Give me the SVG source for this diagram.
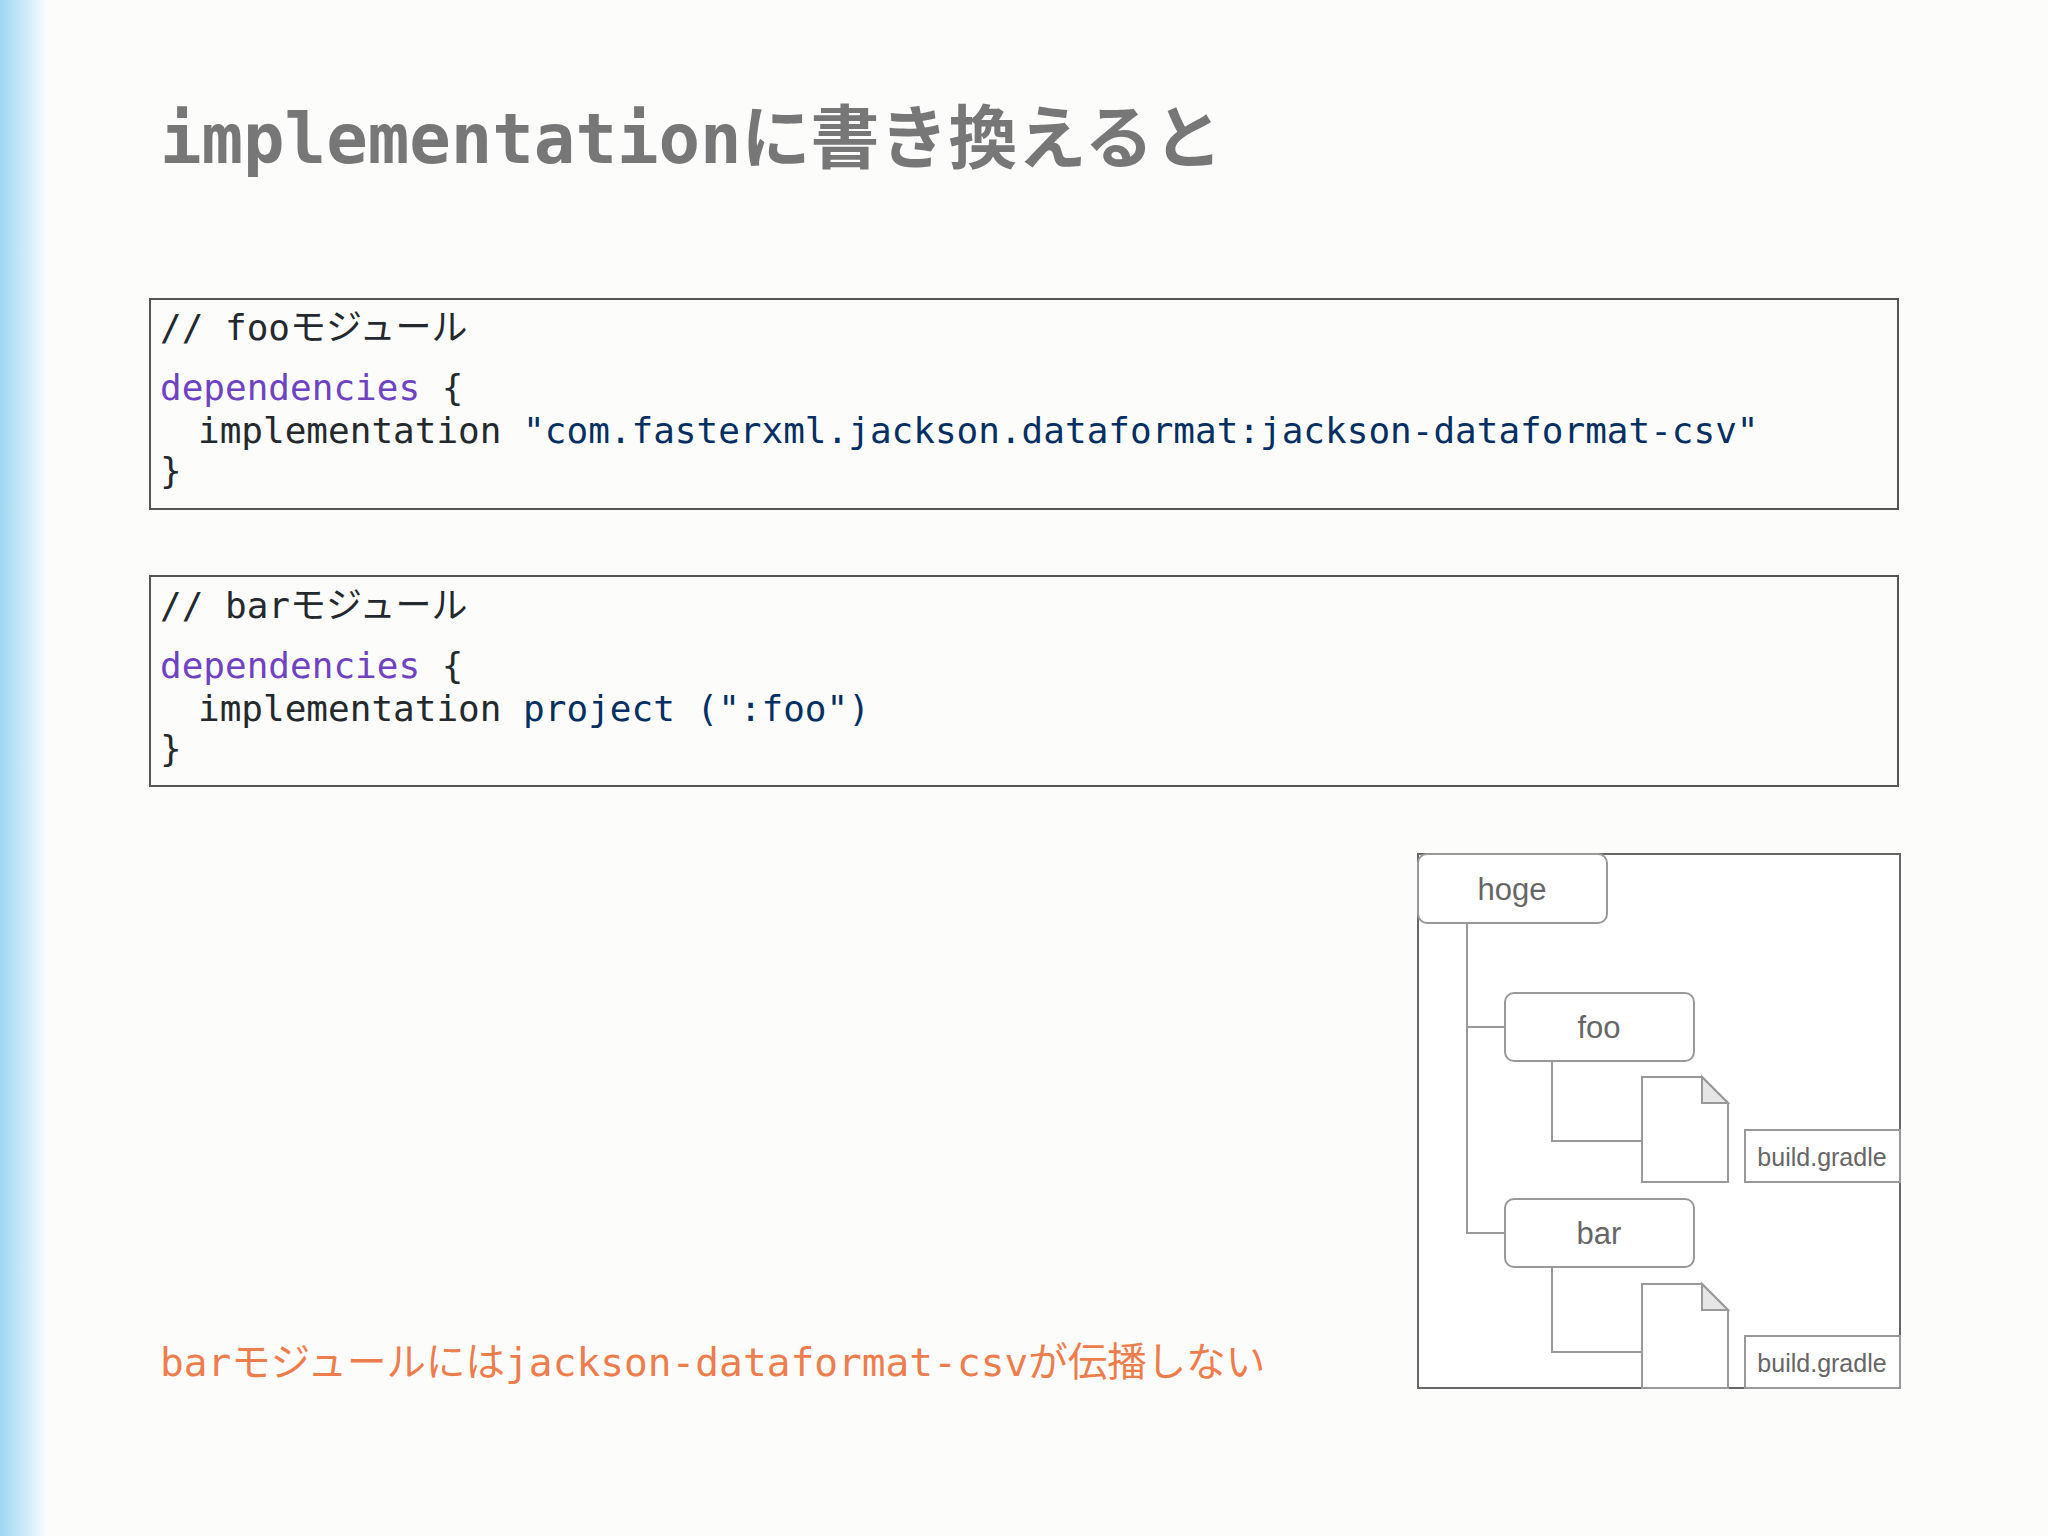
<svg xmlns="http://www.w3.org/2000/svg" width="2048" height="1536" viewBox="0 0 2048 1536">
<defs>
<linearGradient id="side" x1="0" y1="0" x2="1" y2="0">
<stop offset="0" stop-color="#9fd6f2"/><stop offset="0.6" stop-color="#d4eefa"/><stop offset="1" stop-color="#fcfefd"/>
</linearGradient>
<style>
.code{font-family:"DejaVu Sans Mono","Noto Sans CJK JP",monospace;font-size:36px;fill:#24292e}
.kw{fill:#6f42c1}.str{fill:#032f62}
.box{fill:none;stroke:#555;stroke-width:2}
.t{fill:#fff;stroke:#999;stroke-width:2}
.ln{fill:none;stroke:#999;stroke-width:2}
.lbl{font-family:"Liberation Sans",Arial,sans-serif;fill:#666;text-anchor:middle}
</style>
</defs>
<rect width="2048" height="1536" fill="#fcfdfb"/>
<rect width="48" height="1536" fill="url(#side)"/>
<text x="160" y="163" font-family="DejaVu Sans Mono,'Noto Sans CJK JP',monospace" font-weight="bold" font-size="69" fill="#777">implementationに書き換えると</text>
<g id="code1">
<rect class="box" x="150" y="299" width="1748" height="210"/>
<text class="code" x="160" y="340">// fooモジュール</text>
<text class="code" x="160" y="400"><tspan class="kw">dependencies</tspan> {</text>
<text class="code" x="198" y="443">implementation <tspan class="str">"com.fasterxml.jackson.dataformat:jackson-dataformat-csv"</tspan></text>
<text class="code" x="160" y="483">}</text>
</g>
<g id="code2">
<rect class="box" x="150" y="576" width="1748" height="210"/>
<text class="code" x="160" y="618">// barモジュール</text>
<text class="code" x="160" y="678"><tspan class="kw">dependencies</tspan> {</text>
<text class="code" x="198" y="721">implementation <tspan class="str">project (":foo")</tspan></text>
<text class="code" x="160" y="761">}</text>
</g>
<text x="160" y="1376" font-family="DejaVu Sans Mono,'Noto Sans CJK JP',monospace" font-size="39.5" fill="#ee7d4e">barモジュールにはjackson-dataformat-csvが伝播しない</text>
<g id="tree">
<rect x="1418" y="854" width="482" height="534" fill="#fff" stroke="#666" stroke-width="2"/>
<g id="connectors">
<path class="ln" d="M1467 923 V1233 H1505 M1467 1027 H1505"/>
<path class="ln" d="M1552 1061 V1141 H1642 M1552 1267 V1352 H1642"/>
</g>
<g id="hoge"><rect class="t" x="1418" y="854" width="189" height="69" rx="9"/><text class="lbl" x="1512" y="900" font-size="31">hoge</text></g>
<g id="foo"><rect class="t" x="1505" y="993" width="189" height="68" rx="9"/><text class="lbl" x="1599" y="1038" font-size="31">foo</text></g>
<g id="bar"><rect class="t" x="1505" y="1199" width="189" height="68" rx="9"/><text class="lbl" x="1599" y="1244" font-size="31">bar</text></g>
<g id="doc1"><path class="t" d="M1642 1077 H1702 L1728 1103 V1182 H1642 Z"/><path d="M1702 1077 V1103 H1728 Z" fill="#e6e6e6" stroke="#999" stroke-width="2"/></g>
<g id="doc2"><path class="t" d="M1642 1284 H1702 L1728 1310 V1388 H1642 Z"/><path d="M1702 1284 V1310 H1728 Z" fill="#e6e6e6" stroke="#999" stroke-width="2"/></g>
<g id="gradle1"><rect class="t" x="1745" y="1130" width="155" height="52"/><text class="lbl" x="1822" y="1166" font-size="25">build.gradle</text></g>
<g id="gradle2"><rect class="t" x="1745" y="1336" width="155" height="52"/><text class="lbl" x="1822" y="1372" font-size="25">build.gradle</text></g>
</g>
</svg>
